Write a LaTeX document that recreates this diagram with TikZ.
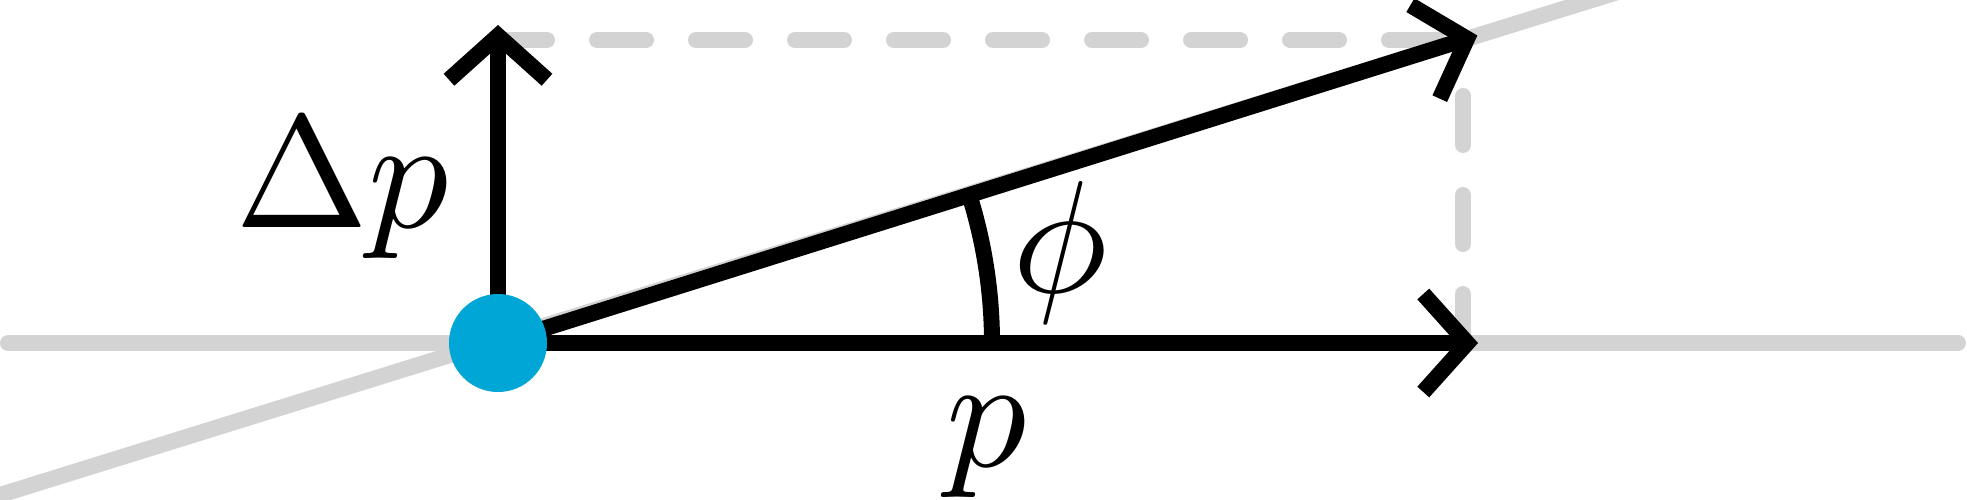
\documentclass[tikz,border=0pt]{standalone}
\usetikzlibrary{arrows.meta}
\definecolor{guidegray}{HTML}{D3D3D3}
\definecolor{massblue}{HTML}{00A6D6}
\tikzset{
  guide/.style={line width=1.6mm, guidegray, line cap=round},
  guidedash/.style={guide, dash pattern=on 4.9mm off 5mm},
  vec/.style={line width=1.6mm, ->, shorten >=-1.5mm},
  massdot/.style={circle, fill=massblue, inner sep=0pt, minimum size=9.8mm},
  lbl/.style={inner sep=0pt, font=\fontsize{10}{12}\selectfont, scale=4.55, transform shape},
}
\begin{document}
\begin{tikzpicture}[>={Straight Barb[length=4.4mm, width=9.8mm]}]
\useasboundingbox (-4.98,-1.56) rectangle (14.69,3.43);
\coordinate (o) at (0,0);
\coordinate (p) at (9.65,0);
\coordinate (dp) at (0,3.03);
\coordinate (pp) at (9.65,3.03);
\draw[guide](-4.90,0)--(14.60,0);
\draw[guide](-5.2,-1.588)--(11.2,3.511);
\draw[guidedash](dp)--(pp);
\draw[guidedash](p)--(pp);
\draw[vec](o)--(p);
\draw[vec](o)--(dp);
\draw[vec](o)--(pp);
\draw[line width=1.6mm](4.94,0)arc[start angle=0, end angle=17.43, radius=4.94];
\node[massdot] (m) at (o) {};
\node[lbl] (dplbl) at (-1.56,1.545) {$\Delta p$};
\node[lbl] (plbl) at (4.89,-1.05) {$p$};
\node[lbl] (philbl) at (5.62,0.90) {$\phi$};
\end{tikzpicture}
\end{document}
